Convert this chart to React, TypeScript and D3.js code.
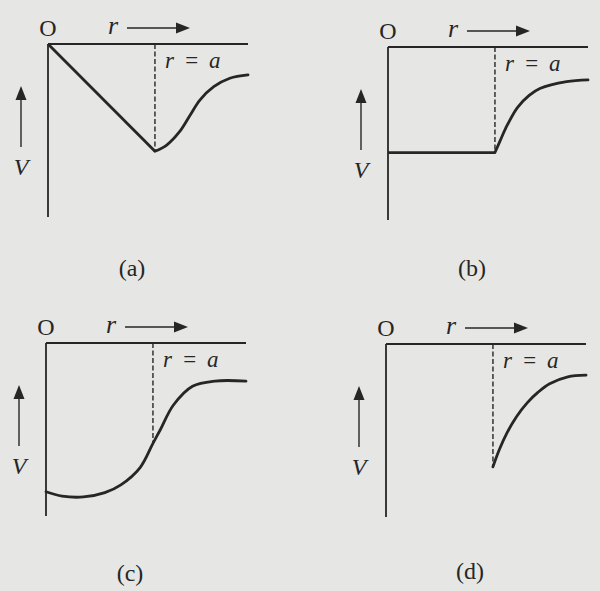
import React from 'react';
import * as d3 from 'd3';

// potential V(r) sketches, r in units of a, V in units of the well depth scale
const wellA: [number, number][] = [[0, 0], [1.0, -0.62]];
const tailA: [number, number][] = [
  [1.0, -0.62], [1.11, -0.584], [1.23, -0.507], [1.33, -0.41], [1.42, -0.324],
  [1.55, -0.247], [1.7, -0.198], [1.87, -0.179],
];

const wellB: [number, number][] = [[0, -0.61], [1.0, -0.61]];
const tailB: [number, number][] = [
  [1.0, -0.61], [1.05, -0.54], [1.1, -0.47], [1.21, -0.35], [1.32, -0.28],
  [1.42, -0.24], [1.67, -0.2], [1.87, -0.19],
];

const wellC: [number, number][] = [];
const tailC: [number, number][] = [
  [0, -0.86], [0.15, -0.885], [0.35, -0.89], [0.55, -0.865], [0.7, -0.82],
  [0.88, -0.72], [1.0, -0.58], [1.07, -0.5], [1.19, -0.36], [1.37, -0.25],
  [1.58, -0.22], [1.87, -0.22],
];

const wellD: [number, number][] = [];
const tailD: [number, number][] = [
  [1.0, -0.71], [1.06, -0.61], [1.13, -0.515], [1.22, -0.42], [1.32, -0.34],
  [1.42, -0.28], [1.53, -0.23], [1.7, -0.19], [1.87, -0.18],
];

const panelLabels = ['(a)', '(b)', '(c)', '(d)'];
const rAt = 1; // r = a
const rMax = 1.87;
const vMin = -1;

const BG = '#e6e6e4';
const INK = '#262626';
const SERIF = '"Liberation Serif", "DejaVu Serif", serif';

const x = d3.scaleLinear().domain([0, rMax]).range([0, 200]);
const y = d3.scaleLinear().domain([0, vMin]).range([0, 173]);

const straight = d3.line<[number, number]>().x(d => x(d[0])).y(d => y(d[1]));
const smooth = d3.line<[number, number]>().x(d => x(d[0])).y(d => y(d[1])).curve(d3.curveCatmullRom.alpha(0.5));

type PanelProps = {
  ox: number; oy: number; label: string; labelDy: number;
  well: [number, number][]; tail: [number, number][];
};

const Panel = ({ ox, oy, label, labelDy, well, tail }: PanelProps) => {
  const dashEnd = tail.find(d => d[0] === rAt)![1];
  return (
    <g transform={`translate(${ox},${oy})`}>
      {/* axes */}
      <line x1={0} y1={0} x2={x(rMax)} y2={0} stroke={INK} strokeWidth={1.8} />
      <line x1={0} y1={0} x2={0} y2={y(vMin)} stroke={INK} strokeWidth={1.8} />
      <line x1={x(rAt)} y1={0} x2={x(rAt)} y2={y(dashEnd)} stroke={INK} strokeWidth={1.4} strokeDasharray="5,2.5" />
      {/* curves */}
      {well.length > 0 && <path d={straight(well)!} fill="none" stroke={INK} strokeWidth={2.8} strokeLinejoin="round" />}
      <path d={smooth(tail)!} fill="none" stroke={INK} strokeWidth={2.8} strokeLinecap="round" />
      {/* labels */}
      <text x={0} y={-8} textAnchor="middle" fontFamily={SERIF} fontSize={24} fill={INK}>O</text>
      <text x={65} y={-10} textAnchor="middle" fontFamily={SERIF} fontStyle="italic" fontSize={26} fill={INK}>r</text>
      <line x1={79} y1={-16} x2={130} y2={-16} stroke={INK} strokeWidth={1.4} />
      <path d="M128,-21.5 L142,-16 L128,-10.5 Z" fill={INK} />
      <text x={x(rAt) + 10} y={24} fontFamily={SERIF} fontStyle="italic" fontSize={23} fill={INK} wordSpacing={4}>r = a</text>
      <line x1={-27} y1={103} x2={-27} y2={54} stroke={INK} strokeWidth={1.4} />
      <path d="M-32.5,56 L-27,42 L-21.5,56 Z" fill={INK} />
      <text x={-27} y={131} textAnchor="middle" fontFamily={SERIF} fontStyle="italic" fontSize={24} fill={INK}>V</text>
      <text x={84} y={labelDy + 9} textAnchor="middle" fontFamily={SERIF} fontSize={24} fill={INK}>{label}</text>
    </g>
  );
};

export default function App() {
  return (
    <svg width={600} height={591} style={{ display: 'block', position: 'absolute', left: 0, top: 0 }}>
      <rect width={600} height={591} fill={BG} />
      <Panel ox={48} oy={44} label={panelLabels[0]} labelDy={223} well={wellA} tail={tailA} />
      <Panel ox={388} oy={47} label={panelLabels[1]} labelDy={220} well={wellB} tail={tailB} />
      <Panel ox={46} oy={343} label={panelLabels[2]} labelDy={229} well={wellC} tail={tailC} />
      <Panel ox={386} oy={344} label={panelLabels[3]} labelDy={226} well={wellD} tail={tailD} />
    </svg>
  );
}
